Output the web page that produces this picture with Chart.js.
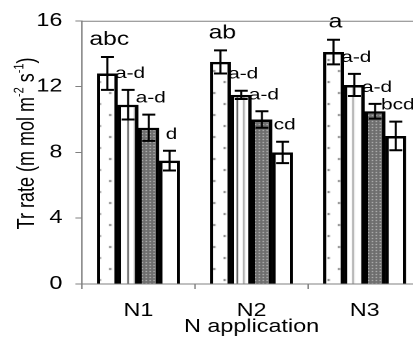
<!DOCTYPE html>
<html>
<head>
<meta charset="utf-8">
<script src="https://cdn.jsdelivr.net/npm/chart.js@4.4.0/dist/chart.umd.min.js"></script>
<style>
  html, body { margin: 0; padding: 0; background: #fff; }
  #wrap { width: 413px; height: 339px; overflow: hidden; position: relative; background: #fff; }
  /* the source picture is stretched sideways, so the chart is too */
  #chart { position: absolute; left: 0; top: 0; transform: scaleX(1.3); transform-origin: 0 0; }
</style>
</head>
<body>
<div id="wrap"><canvas id="chart" width="330" height="339"></canvas></div>
<script>
// Datos del gráfico
const categorias = ['N1', 'N2', 'N3'];
const serie1 = [12.8, 13.5, 14.1];
const serie2 = [10.9, 11.5, 12.1];
const serie3 = [9.5, 10.0, 10.5];
const serie4 = [7.5, 8.0, 9.0];
const error1 = [1.0, 0.7, 0.75];
const error2 = [0.9, 0.25, 0.67];
const error3 = [0.8, 0.5, 0.45];
const error4 = [0.6, 0.65, 0.87];
const letras1 = ['abc', 'ab', 'a'];
const letras2 = ['a-d', 'a-d', 'a-d'];
const letras3 = ['a-d', 'a-d', 'a-d'];
const letras4 = ['d', 'cd', 'bcd'];
const yTicks = [0, 4, 8, 12, 16];

const errores = [error1, error2, error3, error4];
const letras = [letras1, letras2, letras3, letras4];
const FONT = "'Liberation Sans', Arial, sans-serif";
Chart.defaults.font.family = FONT;
Chart.defaults.color = '#000';

// Patrones de relleno
function patron(w, h, dibujar) {
    const c = document.createElement('canvas');
    c.width = w; c.height = h;
    const g = c.getContext('2d');
    dibujar(g);
    return document.getElementById('chart').getContext('2d').createPattern(c, 'repeat');
}
const puntos = patron(16, 22, g => {
    g.fillStyle = '#fff'; g.fillRect(0, 0, 16, 22);
    g.fillStyle = '#707070';
    g.fillRect(4, 4, 1.5, 2);
    g.fillRect(12, 15, 1.5, 2);
});
const rayas = patron(12, 10, g => {
    g.fillStyle = '#fff'; g.fillRect(0, 0, 12, 10);
    g.fillStyle = '#333'; g.fillRect(2, 0, 1, 10);
    g.fillStyle = '#999'; g.fillRect(7, 0, 1.2, 10);
});
const cuadros = patron(3, 3, g => {
    g.fillStyle = '#6e6e6e'; g.fillRect(0, 0, 3, 3);
    g.fillStyle = '#d8d8d8'; g.fillRect(1, 1, 1, 1);
});

function dataset(data, fondo) {
    return {
        data: data,
        backgroundColor: fondo,
        borderColor: '#000',
        borderWidth: 2.5,
        barPercentage: 1.0,
        categoryPercentage: 0.735
    };
}

// Barras de error, letras, título del eje y y borde superior
const extras = {
    id: 'extras',
    afterDatasetsDraw(chart) {
        const ctx = chart.ctx;
        const y = chart.scales.y;
        const area = chart.chartArea;
        ctx.save();

        // borde superior del área
        ctx.strokeStyle = '#808080';
        ctx.lineWidth = 1;
        ctx.beginPath();
        ctx.moveTo(area.left, area.top + 0.5);
        ctx.lineTo(area.right, area.top + 0.5);
        ctx.stroke();

        chart.data.datasets.forEach((ds, di) => {
            const meta = chart.getDatasetMeta(di);
            meta.data.forEach((bar, i) => {
                const v = ds.data[i];
                const e = errores[di][i];
                const yTop = y.getPixelForValue(v + e);
                const yBot = y.getPixelForValue(v - e);
                ctx.strokeStyle = '#000';
                ctx.lineWidth = 1.6;
                ctx.beginPath();
                ctx.moveTo(bar.x, yTop);
                ctx.lineTo(bar.x, yBot);
                ctx.stroke();
                ctx.lineWidth = 2;
                ctx.beginPath();
                ctx.moveTo(bar.x - 5, yTop);
                ctx.lineTo(bar.x + 5, yTop);
                ctx.moveTo(bar.x - 5, yBot);
                ctx.lineTo(bar.x + 5, yBot);
                ctx.stroke();

                const txt = letras[di][i];
                if (txt) {
                    ctx.fillStyle = '#000';
                    ctx.font = (di === 0 ? 19 : 16) + 'px ' + FONT;
                    ctx.textAlign = 'center';
                    ctx.textBaseline = 'alphabetic';
                    ctx.fillText(txt, bar.x + 1.5, yTop - 12);
                }
            });
        });

        // título del eje y con superíndices
        const partes = [
            ['Tr rate (m mol m', false], ['-2', true], [' s', false], ['-1', true], [')', false]
        ];
        const fNormal = '18px ' + FONT;
        const fSup = '11px ' + FONT;
        let total = 0;
        partes.forEach(p => { ctx.font = p[1] ? fSup : fNormal; total += ctx.measureText(p[0]).width; });
        ctx.translate(21, (area.top + area.bottom) / 2 - 9);
        ctx.rotate(-Math.PI / 2);
        ctx.textAlign = 'left';
        ctx.textBaseline = 'middle';
        let x = -total / 2;
        partes.forEach(p => {
            ctx.font = p[1] ? fSup : fNormal;
            ctx.fillText(p[0], x, p[1] ? -6 : 0);
            x += ctx.measureText(p[0]).width;
        });
        ctx.restore();
    }
};

new Chart(document.getElementById('chart'), {
    type: 'bar',
    data: {
        labels: categorias,
        datasets: [
            dataset(serie1, puntos),
            dataset(serie2, rayas),
            dataset(serie3, cuadros),
            dataset(serie4, '#fff')
        ]
    },
    options: {
        responsive: false,
        animation: false,
        devicePixelRatio: 2,
        layout: { padding: { top: 17, right: 6, bottom: 0, left: 0 } },
        plugins: { legend: { display: false }, tooltip: { enabled: false } },
        scales: {
            x: {
                offset: true,
                grid: { drawOnChartArea: false, offset: true, tickLength: 5, color: '#808080' },
                border: { color: '#808080' },
                ticks: { font: { size: 18 }, padding: 11 },
                title: { display: true, text: 'N application', font: { size: 18 }, padding: { top: 0, bottom: 1 } },
                afterFit: s => { s.height = 55; }
            },
            y: {
                min: 0,
                max: 16,
                afterBuildTicks: s => { s.ticks = yTicks.map(v => ({ value: v })); },
                grid: { drawOnChartArea: false, tickLength: 5, color: '#808080' },
                border: { color: '#808080' },
                ticks: { font: { size: 18 }, padding: 10 },
                afterFit: s => { s.width = 63; }
            }
        }
    },
    plugins: [extras]
});
</script>
</body>
</html>
